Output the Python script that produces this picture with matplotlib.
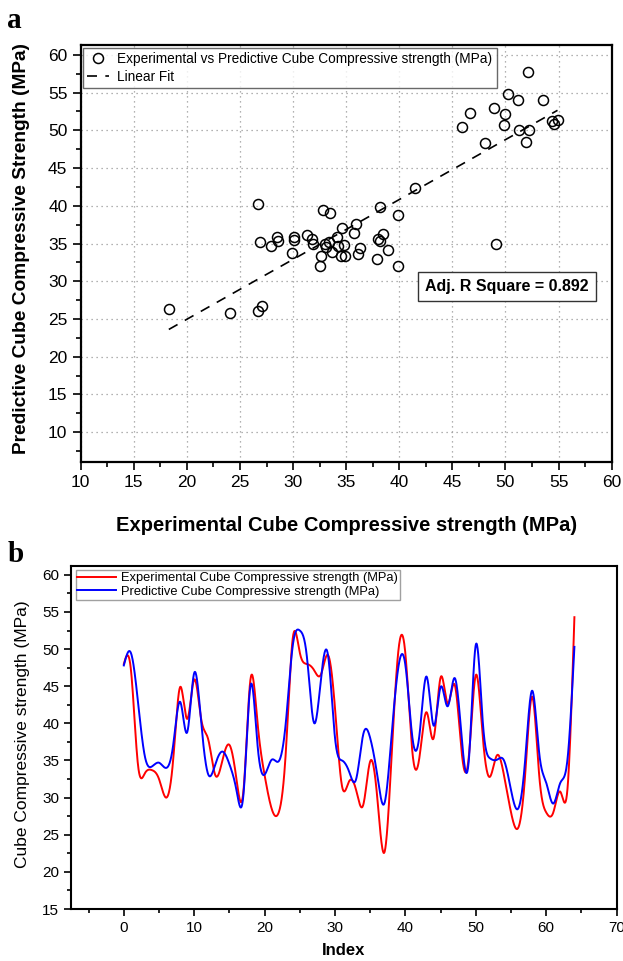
import numpy as np
import matplotlib
matplotlib.use("Agg")
import matplotlib.pyplot as plt
from matplotlib.ticker import MultipleLocator

plt.rcParams['font.family'] = ['Liberation Sans', 'DejaVu Sans']

# ---------------- data: panel a (scatter) ----------------
exp_strength = [18.3, 24.1, 26.7, 27.1, 26.7, 26.9, 27.9, 28.5, 28.6, 29.9,
                30.1, 30.1, 31.3, 31.8, 31.9, 32.5, 32.6, 32.8, 33.5, 33.0,
                33.1, 33.4, 33.7, 34.1, 34.2, 34.6, 34.5, 34.9, 34.8, 35.7,
                35.9, 36.1, 36.3, 37.9, 38.0, 38.2, 38.2, 38.5, 38.9, 39.9,
                39.9, 41.5, 49.1, 45.9, 46.7, 48.1, 48.9, 49.9, 50.0, 50.2,
                51.2, 51.3, 51.9, 52.1, 52.2, 53.5, 54.4, 54.9, 54.6]
pred_strength = [26.3, 25.8, 26.0, 26.7, 40.2, 35.2, 34.7, 35.9, 35.3, 33.8,
                 35.8, 35.4, 36.1, 35.6, 35.0, 32.0, 33.4, 39.5, 39.1, 35.0,
                 34.5, 35.2, 33.9, 35.8, 34.7, 37.0, 33.4, 33.3, 34.8, 36.4,
                 37.6, 33.6, 34.4, 33.0, 35.6, 35.3, 39.8, 36.3, 34.1, 38.8,
                 32.0, 42.3, 34.9, 50.5, 52.3, 48.3, 52.9, 50.7, 52.1, 54.8,
                 54.0, 50.0, 48.4, 57.7, 50.1, 54.0, 51.2, 51.4, 50.8]
adj_r2_text = "Adj. R Square = 0.892"

# ---------------- data: panel b (line chart) ----------------
index = list(range(65))
exp_series = [48.0, 47.3, 34.5, 33.3, 33.7, 32.5, 30.0, 35.0, 44.9, 40.6,
              45.9, 40.5, 37.8, 33.0, 35.0, 37.1, 32.5, 31.0, 46.0, 40.0,
              33.0, 28.5, 28.0, 36.0, 51.5, 49.5, 48.0, 47.2, 46.6, 49.2,
              42.0, 31.5, 32.2, 31.0, 29.0, 34.9, 30.0, 22.6, 35.0, 49.8,
              49.3, 36.0, 35.5, 41.5, 38.0, 46.2, 42.7, 45.2, 36.0, 35.5,
              46.5, 38.0, 32.8, 35.7, 33.0, 28.0, 25.9, 33.0, 43.6, 33.0,
              28.0, 28.0, 30.8, 31.0, 54.3]
pred_series = [47.8, 49.5, 43.0, 35.5, 34.2, 34.7, 34.0, 37.0, 42.9, 38.8,
               46.8, 40.0, 33.1, 34.5, 36.2, 34.5, 31.0, 30.5, 45.1, 37.0,
               33.1, 35.1, 34.9, 40.0, 50.5, 52.5, 49.0, 40.1, 46.0, 49.2,
               38.0, 35.0, 33.5, 32.5, 38.5, 38.0, 33.0, 29.2, 38.0, 47.6,
               47.8, 38.0, 38.5, 46.3, 39.7, 44.9, 42.3, 46.1, 38.0, 35.0,
               50.6, 40.0, 35.3, 35.1, 35.0, 31.0, 28.5, 35.0, 44.4, 36.0,
               32.0, 29.2, 32.0, 35.0, 50.3]


def natural_spline(x, y, xs):
    x = np.asarray(x, float)
    y = np.asarray(y, float)
    n = len(x)
    h = np.diff(x)
    A = np.zeros((n, n))
    b = np.zeros(n)
    A[0, 0] = 1
    A[-1, -1] = 1
    for i in range(1, n - 1):
        A[i, i - 1] = h[i - 1]
        A[i, i] = 2 * (h[i - 1] + h[i])
        A[i, i + 1] = h[i]
        b[i] = 3 * ((y[i + 1] - y[i]) / h[i] - (y[i] - y[i - 1]) / h[i - 1])
    c = np.linalg.solve(A, b)
    bc = (y[1:] - y[:-1]) / h - h * (2 * c[:-1] + c[1:]) / 3
    d = (c[1:] - c[:-1]) / (3 * h)
    idx = np.clip(np.searchsorted(x, xs) - 1, 0, n - 2)
    dx = xs - x[idx]
    return y[idx] + bc[idx] * dx + c[idx] * dx ** 2 + d[idx] * dx ** 3


fig = plt.figure(figsize=(6.23, 9.61), dpi=100)

# ---------------- panel a ----------------
ax1 = fig.add_axes([0.1295, 0.5196, 0.8523, 0.4336])
xe = np.array(exp_strength)
yp = np.array(pred_strength)
ax1.plot(xe, yp, linestyle='none', marker='o', markersize=7.2, markerfacecolor='none',
         markeredgecolor='black', markeredgewidth=1.1,
         label='Experimental vs Predictive Cube Compressive strength (MPa)', zorder=3)
k, b0 = np.polyfit(xe, yp, 1)
xf = np.array([xe.min(), xe.max()])
ax1.plot(xf, k * xf + b0, linestyle=(0, (6, 5)), color='black', linewidth=1.2,
         label='Linear Fit', zorder=2)
ax1.set_xlim(10, 60)
ax1.set_ylim(6.1, 61.3)
ax1.xaxis.set_major_locator(MultipleLocator(5))
ax1.xaxis.set_minor_locator(MultipleLocator(2.5))
ax1.yaxis.set_major_locator(MultipleLocator(5))
ax1.yaxis.set_minor_locator(MultipleLocator(2.5))
ax1.set_yticks(np.arange(10, 61, 5))
ax1.grid(True, which='major', linestyle=(0, (1, 3)), color='#999999', linewidth=0.9)
ax1.tick_params(which='major', direction='out', length=6, width=1.2, labelsize=12.5)
ax1.tick_params(which='minor', direction='out', length=3.5, width=1.2)
for s in ax1.spines.values():
    s.set_linewidth(1.6)
ax1.set_xlabel('Experimental Cube Compressive strength (MPa)', fontsize=14.5,
               fontweight='bold')
ax1.xaxis.set_label_coords(0.5, -0.13)
ax1.set_ylabel('Predictive Cube Compressive Strength (MPa)', fontsize=13.8,
               fontweight='bold')
ax1.yaxis.set_label_coords(-0.095, 0.512)
leg1 = ax1.legend(loc='upper left', fontsize=9.8, frameon=True, fancybox=False,
                  borderaxespad=0.2, handlelength=1.6, handletextpad=0.6,
                  borderpad=0.3, labelspacing=0.3)
leg1.get_frame().set_edgecolor('#444444')
leg1.get_frame().set_linewidth(1.0)
ax1.text(50.1, 29.3, adj_r2_text, fontsize=11.5, fontweight='bold', ha='center',
         va='center', bbox=dict(boxstyle='square,pad=0.45', facecolor='white',
                                edgecolor='#333333', linewidth=1.0), zorder=4)
fig.text(0.012, 0.993, 'a', fontsize=21, fontweight='bold', va='top', ha='left',
         family=['Liberation Serif', 'DejaVu Serif'])

# ---------------- panel b ----------------
ax2 = fig.add_axes([0.114, 0.0541, 0.8758, 0.357])
xi = np.array(index, float)
xs = np.linspace(0, xi[-1], 1500)
ax2.plot(xs, natural_spline(xi, exp_series, xs), color='#ff0000', linewidth=1.4,
         label='Experimental Cube Compressive strength (MPa)')
ax2.plot(xs, natural_spline(xi, pred_series, xs), color='#0000ff', linewidth=1.4,
         label='Predictive Cube Compressive strength (MPa)')
ax2.set_xlim(-7.5, 70)
ax2.set_ylim(15, 61.2)
ax2.xaxis.set_major_locator(MultipleLocator(10))
ax2.xaxis.set_minor_locator(MultipleLocator(5))
ax2.yaxis.set_major_locator(MultipleLocator(5))
ax2.yaxis.set_minor_locator(MultipleLocator(2.5))
ax2.set_xticks(np.arange(0, 71, 10))
ax2.set_yticks(np.arange(15, 61, 5))
ax2.tick_params(which='major', direction='out', length=5, width=1.2, labelsize=11)
ax2.tick_params(which='minor', direction='out', length=3, width=1.2)
for s in ax2.spines.values():
    s.set_linewidth(1.5)
ax2.set_xlabel('Index', fontsize=12, fontweight='bold')
ax2.xaxis.set_label_coords(0.5, -0.1)
ax2.set_ylabel('Cube Compressive strength (MPa)', fontsize=12.5)
ax2.yaxis.set_label_coords(-0.075, 0.51)
leg2 = ax2.legend(loc='upper left', fontsize=9.3, frameon=True, fancybox=False,
                  borderaxespad=0.35, handlelength=3.0, handletextpad=0.4,
                  borderpad=0.15, labelspacing=0.1)
leg2.get_frame().set_edgecolor('#888888')
leg2.get_frame().set_linewidth(1.0)
fig.text(0.012, 0.437, 'b', fontsize=21, fontweight='bold', va='top', ha='left',
         family=['Liberation Serif', 'DejaVu Serif'])

fig.savefig('out.png', dpi=100)
